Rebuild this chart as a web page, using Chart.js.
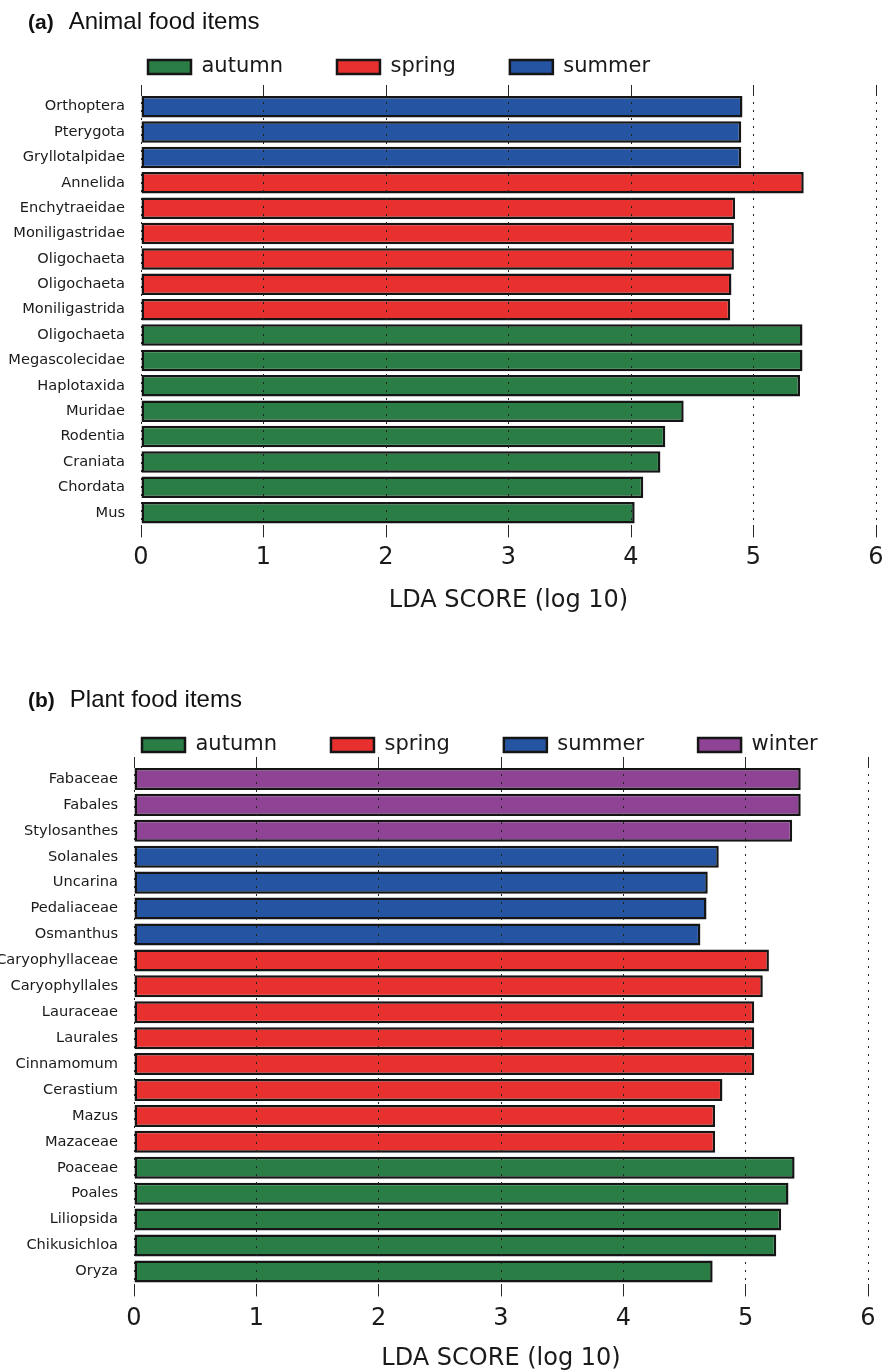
<!DOCTYPE html>
<html>
<head>
<meta charset="utf-8">
<script src="https://cdn.jsdelivr.net/npm/chart.js@4.4.1/dist/chart.umd.min.js"></script>
<style>
  html, body { margin: 0; padding: 0; background: #fff; width: 893px; height: 1372px; overflow: hidden; }
  .panel { position: absolute; left: 0; width: 893px; }
  .panel-title {
    position: absolute; left: 28px; z-index: 2; white-space: nowrap;
    font-family: "Liberation Sans", Arial, sans-serif; font-size: 24px; line-height: 24px; color: #111;
  }
  .panel-title b { font-size: 21px; margin-right: 15px; }
</style>
</head>
<body>
<div class="panel" style="top:0; height:620px"><canvas id="chartA"></canvas></div>
<div class="panel" style="top:672px; height:701px"><canvas id="chartB"></canvas></div>
<div class="panel-title" style="top:9px"><b>(a)</b>Animal food items</div>
<div class="panel-title" style="top:687px"><b>(b)</b>Plant food items</div>
<script>
// ---- data ----
const animalLabels = ['Orthoptera', 'Pterygota', 'Gryllotalpidae', 'Annelida', 'Enchytraeidae',
  'Moniligastridae', 'Oligochaeta', 'Oligochaeta', 'Moniligastrida', 'Oligochaeta',
  'Megascolecidae', 'Haplotaxida', 'Muridae', 'Rodentia', 'Craniata', 'Chordata', 'Mus'];
const animalSeason = ['summer', 'summer', 'summer', 'spring', 'spring', 'spring', 'spring', 'spring',
  'spring', 'autumn', 'autumn', 'autumn', 'autumn', 'autumn', 'autumn', 'autumn', 'autumn'];
const animalScore = [4.91, 4.90, 4.90, 5.41, 4.85, 4.84, 4.84, 4.82, 4.81, 5.40, 5.40, 5.38,
  4.43, 4.28, 4.24, 4.10, 4.03];

const plantLabels = ['Fabaceae', 'Fabales', 'Stylosanthes', 'Solanales', 'Uncarina', 'Pedaliaceae',
  'Osmanthus', 'Caryophyllaceae', 'Caryophyllales', 'Lauraceae', 'Laurales', 'Cinnamomum',
  'Cerastium', 'Mazus', 'Mazaceae', 'Poaceae', 'Poales', 'Liliopsida', 'Chikusichloa', 'Oryza'];
const plantSeason = ['winter', 'winter', 'winter', 'summer', 'summer', 'summer', 'summer',
  'spring', 'spring', 'spring', 'spring', 'spring', 'spring', 'spring', 'spring',
  'autumn', 'autumn', 'autumn', 'autumn', 'autumn'];
const plantScore = [5.45, 5.45, 5.38, 4.78, 4.69, 4.68, 4.63, 5.19, 5.14, 5.07, 5.07, 5.07,
  4.81, 4.75, 4.75, 5.40, 5.35, 5.29, 5.25, 4.73];

const xTicks = [0, 1, 2, 3, 4, 5, 6];

const seasonColors = {
  autumn: '#2a7d45',
  spring: '#e8302e',
  summer: '#2555a2',
  winter: '#8f4395'
};

const LEGEND_FONT = 21;

// move the legend row so its first box sits where the reference has it
const legendShift = {
  id: 'legendShift',
  afterLayout(chart, args, opts) {
    const lg = chart.legend;
    if (!lg || !lg.lineWidths) return;
    const pad = lg.options.labels.padding;
    const startX = (lg.left + pad + lg.right - lg.lineWidths[0]) / 2;
    const midY = lg.top + pad + LEGEND_FONT / 2;
    const dx = opts.x - startX;
    const dy = opts.y - midY;
    lg.left += dx; lg.right += dx;
    lg.top += dy; lg.bottom += dy;
  }
};

function makeDatasets(labels, seasons, scores, order) {
  return order.map(s => ({
    label: s,
    data: scores.map((v, i) => seasons[i] === s ? v : null),
    backgroundColor: seasonColors[s],
    borderColor: '#151515',
    borderWidth: 2.5,
    borderSkipped: false,
    grouped: false,
    categoryPercentage: 1,
    barPercentage: 0.85
  }));
}

function makeChart(id, labels, seasons, scores, order, cfg) {
  const ctx = document.getElementById(id).getContext('2d');
  return new Chart(ctx, {
    type: 'bar',
    data: { labels: labels, datasets: makeDatasets(labels, seasons, scores, order) },
    plugins: [legendShift],
    options: {
      indexAxis: 'y',
      responsive: true,
      maintainAspectRatio: false,
      animation: false,
      layout: { padding: { right: cfg.padRight } },
      plugins: {
        legend: {
          position: 'top',
          labels: {
            boxWidth: 43,
            boxHeight: 14,
            padding: cfg.legendPad,
            color: '#1a1a1a',
            font: { family: 'DejaVu Sans', size: LEGEND_FONT }
          }
        },
        legendShift: { x: cfg.legendX, y: cfg.legendY },
        tooltip: { enabled: false }
      },
      scales: {
        y: {
          offset: true,
          grid: { display: false },
          border: { display: false },
          ticks: {
            padding: 8,
            autoSkip: false,
            color: '#1a1a1a',
            font: { family: 'DejaVu Sans', size: 14.6 }
          },
          afterFit: (scale) => { scale.width = cfg.left; }
        },
        x: {
          position: 'bottom',
          min: 0,
          max: 6,
          afterBuildTicks: (scale) => { scale.ticks = xTicks.map(v => ({ value: v })); },
          // in v4 the grid line dash comes from border.dash
          border: { display: false, dash: [2, 6] },
          grid: {
            z: 1, // dotted lines over the bars, like the reference
            color: '#222',
            lineWidth: 1,
            tickLength: 12,
            tickColor: '#2a2a2a',
            tickWidth: 1,
            tickBorderDash: []
          },
          ticks: {
            padding: cfg.tickPad,
            maxRotation: 0,
            color: '#1a1a1a',
            font: { family: 'DejaVu Sans', size: 24 }
          },
          title: {
            display: true,
            text: 'LDA SCORE (log 10)',
            color: '#1a1a1a',
            font: { family: 'DejaVu Sans', size: 24 },
            padding: { top: cfg.titlePadTop, bottom: cfg.titlePadBottom }
          }
        },
        xTop: {
          position: 'top',
          axis: 'x',
          min: 0,
          max: 6,
          afterBuildTicks: (scale) => { scale.ticks = xTicks.map(v => ({ value: v })); },
          border: { display: false },
          grid: {
            drawOnChartArea: false,
            tickLength: 9,
            tickColor: '#2a2a2a',
            tickWidth: 1,
            tickBorderDash: []
          },
          ticks: { display: false }
        }
      }
    }
  });
}

makeChart('chartA', animalLabels, animalSeason, animalScore, ['autumn', 'spring', 'summer'], {
  left: 141, padRight: 17, legendPad: 54, legendX: 148, legendY: 67,
  tickPad: 6, titlePadTop: 8, titlePadBottom: 5
});

makeChart('chartB', plantLabels, plantSeason, plantScore, ['autumn', 'spring', 'summer', 'winter'], {
  left: 134, padRight: 25, legendPad: 54, legendX: 142, legendY: 73,
  tickPad: 8, titlePadTop: 3, titlePadBottom: 0
});
</script>
</body>
</html>
